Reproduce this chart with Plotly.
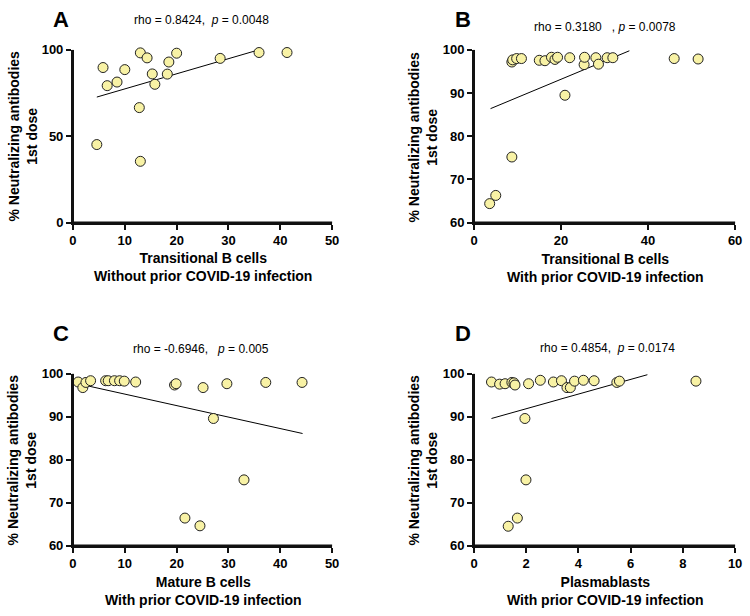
"""Prism-style 2x2 scatter panels: % neutralizing antibodies after 1st dose vs
B cell subsets, with linear fit lines and rho/p annotations."""

import plotly.graph_objects as go

# %% data
# A: transitional B cells, without prior COVID-19 infection
a_x = [4.6, 5.8, 6.6, 8.5, 10.0, 13.0, 12.8, 13.0, 14.3, 15.3, 15.8, 18.2, 18.5, 20.0, 28.4, 35.9, 41.3]
a_y = [45.2, 89.8, 79.3, 81.4, 88.6, 98.3, 66.6, 35.5, 95.4, 86.1, 80.1, 86.0, 93.0, 98.1, 95.1, 98.5, 98.5]
a_fit_x = [4.6, 35.8]
a_fit_y = [72.7, 100.0]

# B: transitional B cells, with prior infection
b_x = [3.6, 5.0, 8.7, 8.7, 8.9, 9.8, 10.9, 15.0, 16.3, 17.8, 18.6, 19.2, 20.9, 22.0,
       25.3, 25.4, 28.0, 28.6, 30.6, 31.9, 46.0, 51.5]
b_y = [64.4, 66.3, 75.2, 97.2, 97.7, 98.0, 98.0, 97.6, 97.5, 98.3, 97.8, 98.3, 89.5, 98.2,
       96.6, 98.3, 98.2, 96.7, 98.2, 98.2, 98.0, 97.9]
b_fit_x = [3.8, 35.7]
b_fit_y = [86.4, 99.8]

# C: mature B cells, with prior infection
c_x = [1.0, 1.9, 2.5, 3.4, 6.3, 6.8, 8.0, 9.0, 9.9, 12.1, 19.6, 19.9, 25.1, 27.1,
       29.7, 33.0, 21.6, 24.5, 37.2, 44.2]
c_y = [98.1, 96.8, 98.0, 98.4, 98.4, 98.4, 98.4, 98.4, 98.3, 98.1, 97.4, 97.7, 96.8, 89.6,
       97.7, 75.3, 66.4, 64.6, 98.0, 98.0]
c_fit_x = [0.95, 44.3]
c_fit_y = [97.7, 86.1]

# D: plasmablasts, with prior infection
d_x = [0.67, 0.98, 1.19, 1.45, 1.53, 1.57, 2.09, 2.54, 3.04, 3.35, 3.56, 3.69, 3.85, 4.19,
       4.6, 5.47, 5.57, 1.95, 1.99, 1.66, 1.31, 8.5]
d_y = [98.1, 97.6, 97.7, 98.0, 97.9, 97.4, 97.7, 98.5, 98.1, 98.4, 96.8, 96.8, 98.3, 98.5,
       98.4, 98.0, 98.3, 89.6, 75.3, 66.4, 64.5, 98.3]
d_fit_x = [0.67, 6.64]
d_fit_y = [89.6, 99.8]

# tick values per panel (A, B, C, D)
x_tickvals = [[0, 10, 20, 30, 40, 50], [0, 20, 40, 60], [0, 10, 20, 30, 40, 50], [0, 2, 4, 6, 8, 10]]
y_tickvals = [[0, 50, 100], [60, 70, 80, 90, 100], [60, 70, 80, 90, 100], [60, 70, 80, 90, 100]]
x_ranges = [(0, 50), (0, 60), (0, 50), (0, 10)]
y_ranges = [(0, 100), (60, 100), (60, 100), (60, 100)]

panel_letters = ["A", "B", "C", "D"]
stat_texts = [
    "rho = 0.8424,\u00a0 <i>p</i> = 0.0048",
    "rho = 0.3180\u00a0\u00a0 , <i>p</i> = 0.0078",
    "rho = -0.6946,\u00a0\u00a0 <i>p</i> = 0.005",
    "rho = 0.4854,\u00a0 <i>p</i> = 0.0174",
]
x_titles = [
    "Transitional B cells<br>Without prior COVID-19 infection",
    "Transitional B cells<br>With prior COVID-19 infection",
    "Mature B cells<br>With prior COVID-19 infection",
    "Plasmablasts<br>With prior COVID-19 infection",
]
y_title = "% Neutralizing antibodies<br>1st dose"

# %% layout in pixels of the 750x616 canvas
W, H = 750, 616
# plot area boxes: (left, right, top, bottom) in px
boxes = [(70, 333, 44, 221), (477, 742, 44, 221), (70, 333, 376, 552), (477, 742, 376, 552)]
letter_pos = [(58, 13), (466, 13), (58, 335), (466, 335)]
stat_pos = [(200, 13), (610, 20), (200, 351), (612, 350)]
ytitle_pos = [(19, 132), (425, 133), (18, 464), (425, 464)]
xtitle_pos = [(202, 267), (610, 268), (202, 599), (610, 599)]

font = "Arial, Liberation Sans, sans-serif"
ink = "#111111"
marker_fill = "#f8f2a5"

series = [(a_x, a_y, a_fit_x, a_fit_y), (b_x, b_y, b_fit_x, b_fit_y),
          (c_x, c_y, c_fit_x, c_fit_y), (d_x, d_y, d_fit_x, d_fit_y)]


def px_x(v):
    return v / W


def px_y(v):
    return 1 - v / H


def bold(vals):
    return [f"<b>{v}</b>" for v in vals]


fig = go.Figure()
annotations = []
axes = {}
for idx, (xs, ys, fx, fy) in enumerate(series):
    n = "" if idx == 0 else str(idx + 1)
    xref, yref = f"x{n}", f"y{n}"
    fig.add_trace(go.Scatter(
        x=fx, y=fy, mode="lines", xaxis=xref, yaxis=yref, line=dict(color="black", width=1),
    ))
    fig.add_trace(go.Scatter(
        x=xs, y=ys, mode="markers", xaxis=xref, yaxis=yref, cliponaxis=False,
        marker=dict(size=10, color=marker_fill, line=dict(color="#222", width=1)),
    ))

    left, right, top, bottom = boxes[idx]
    axes[f"xaxis{n}"] = dict(
        domain=[px_x(left), px_x(right)], anchor=yref, range=list(x_ranges[idx]),
        tickvals=x_tickvals[idx], ticktext=bold(x_tickvals[idx]),
    )
    axes[f"yaxis{n}"] = dict(
        domain=[px_y(bottom), px_y(top)], anchor=xref, range=list(y_ranges[idx]),
        tickvals=y_tickvals[idx], ticktext=bold(y_tickvals[idx]),
    )

    # L-shaped axis lines along the bottom and left edge of each plot area
    for x0, x1, y0, y1 in [(-0.004, 1, 0, 0), (0, 0, 0, 1)]:
        fig.add_shape(
            type="line", xref=f"{xref} domain", yref=f"{yref} domain", layer="above",
            x0=x0, x1=x1, y0=y0, y1=y1, line=dict(color=ink, width=2),
        )

    common = dict(xref="paper", yref="paper", showarrow=False, xanchor="center",
                  yanchor="middle", captureevents=False)
    lx, ly = letter_pos[idx]
    annotations.append(dict(x=px_x(lx), y=px_y(ly), text=f"<b>{panel_letters[idx]}</b>",
                            font=dict(family=font, size=22, color="black"), **common))
    sx, sy = stat_pos[idx]
    annotations.append(dict(x=px_x(sx), y=px_y(sy), text=stat_texts[idx],
                            font=dict(family=font, size=12, color="black"), **common))
    tx, ty = ytitle_pos[idx]
    annotations.append(dict(x=px_x(tx), y=px_y(ty), text=f"<b>{y_title}</b>", textangle=-90,
                            font=dict(family=font, size=14, color="black"), **common))
    qx, qy = xtitle_pos[idx]
    annotations.append(dict(x=px_x(qx), y=px_y(qy), text=f"<b>{x_titles[idx]}</b>",
                            font=dict(family=font, size=14, color="black"), **common))

fig.update_layout(
    width=W, height=H, showlegend=False, margin=dict(l=0, r=0, t=0, b=0),
    plot_bgcolor="white", annotations=annotations, **axes,
)

# Prism-like axes: thick dark lines, outside ticks, no grid
axis_style = dict(
    showline=True, linewidth=2, linecolor=ink, ticks="outside", ticklen=5,
    tickwidth=2, tickcolor=ink, showgrid=False, zeroline=False,
    tickfont=dict(family=font, size=13, color="black", weight="bold"),
)
fig.update_xaxes(**axis_style)
fig.update_yaxes(**axis_style)

# page body has a default 8px margin; drop it so the figure fills the window
fig.write_html("out.html", post_script="document.body.style.margin = '0';",
               config={"displayModeBar": False})
